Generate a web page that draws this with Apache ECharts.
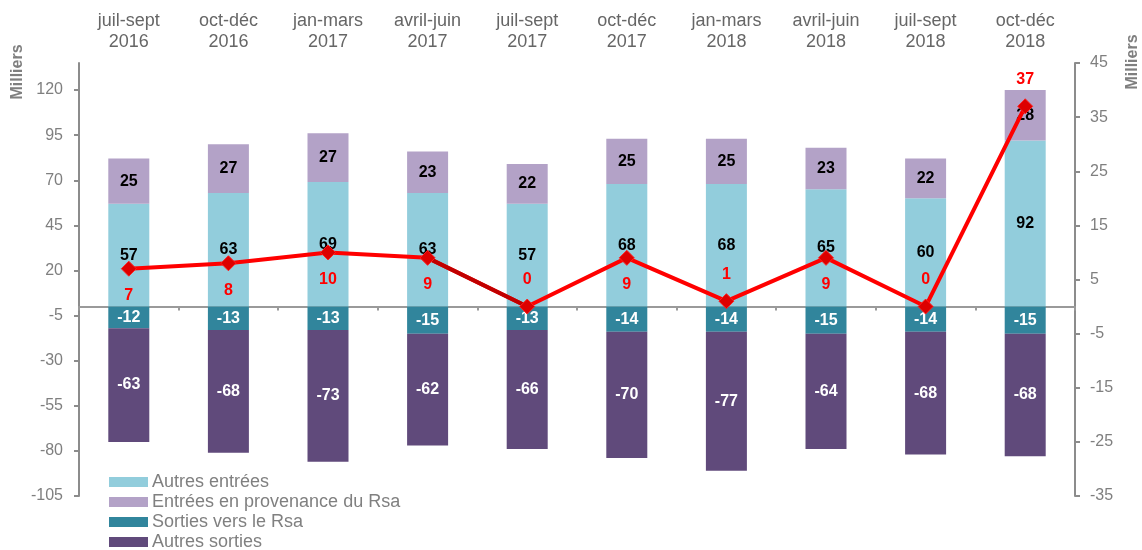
<!DOCTYPE html>
<html>
<head>
<meta charset="utf-8">
<script src="https://cdn.jsdelivr.net/npm/echarts@6/dist/echarts.min.js"></script>
<style>
  html, body { margin: 0; padding: 0; background: #fff; }
  #chart { width: 1142px; height: 550px; }
</style>
</head>
<body>
<div id="chart"></div>
<script>
// Data
const quarters = ['juil-sept\n2016', 'oct-déc\n2016', 'jan-mars\n2017', 'avril-juin\n2017', 'juil-sept\n2017',
    'oct-déc\n2017', 'jan-mars\n2018', 'avril-juin\n2018', 'juil-sept\n2018', 'oct-déc\n2018'];
const autresEntrees = [57, 63, 69, 63, 57, 68, 68, 65, 60, 92];
const entreesRsa = [25, 27, 27, 23, 22, 25, 25, 23, 22, 28];
const sortiesRsa = [-12, -13, -13, -15, -13, -14, -14, -15, -14, -15];
const autresSorties = [-63, -68, -73, -62, -66, -70, -77, -64, -68, -68];
const soldeRsa = [7, 8, 10, 9, 0, 9, 1, 9, 0, 37];
const leftTicks = [-105, -80, -55, -30, -5, 20, 45, 70, 95, 120];

// label side for the red line (above / below the point)
const labelSide = ['bottom', 'bottom', 'bottom', 'bottom', 'top', 'bottom', 'top', 'bottom', 'top', 'top'];
// darker segment of the line (avril-juin 2017 -> juil-sept 2017)
const darkSegment = [3, 4];

const GREY = '#8c8c8c';
const FONT = 'Liberation Sans, Arial, sans-serif';

const chart = echarts.init(document.getElementById('chart'), null, {renderer: 'canvas'});

function barSeries(name, data, color, labelColor) {
    return {
        name: name,
        type: 'bar',
        stack: 'flux',
        data: data,
        barWidth: 41,
        itemStyle: {color: color},
        label: {
            show: true,
            position: 'inside',
            color: labelColor,
            fontFamily: FONT,
            fontWeight: 'bold',
            fontSize: 16
        }
    };
}

function legendBlock(names, top) {
    return {
        orient: 'vertical',
        left: 109,
        top: top,
        padding: 0,
        itemWidth: 39,
        itemHeight: 10,
        itemGap: 2,
        icon: 'rect',
        data: names,
        textStyle: {color: '#808080', fontSize: 18, fontFamily: FONT, padding: [0, 0, 0, -1]}
    };
}

const option = {
    animation: false,
    backgroundColor: '#fff',
    textStyle: {fontFamily: FONT},
    grid: {left: 79, right: 67, top: 63, bottom: 54, containLabel: false},
    legend: [
        legendBlock(['Autres entrées', 'Entrées en provenance du Rsa', 'Sorties vers le Rsa'], 473),
        legendBlock(['Autres sorties'], 533)
    ],
    xAxis: [{
        type: 'category',
        position: 'top',
        data: quarters,
        axisLine: {show: false},
        axisTick: {show: false},
        axisLabel: {color: '#666', fontSize: 18, lineHeight: 21, margin: 10, fontFamily: FONT}
    }, {
        type: 'category',
        position: 'bottom',
        data: quarters,
        axisLine: {show: true, onZero: true, onZeroAxisIndex: 0, lineStyle: {color: '#9a9a9a', width: 2}},
        axisTick: {show: true, length: 4, lineStyle: {color: '#9a9a9a', width: 2}},
        axisLabel: {show: false}
    }],
    yAxis: [{
        type: 'value',
        min: -105,
        max: 135,
        interval: 25,
        splitLine: {show: false},
        axisLine: {show: true, lineStyle: {color: GREY, width: 2}},
        axisTick: {show: true, length: 5, customValues: leftTicks, lineStyle: {color: GREY, width: 2}},
        axisLabel: {color: '#7f7f7f', fontSize: 16, margin: 16, customValues: leftTicks, fontFamily: FONT}
    }, {
        type: 'value',
        min: -35,
        max: 45,
        interval: 10,
        position: 'right',
        splitLine: {show: false},
        axisLine: {show: true, lineStyle: {color: GREY, width: 2}},
        axisTick: {show: true, length: 5, lineStyle: {color: GREY, width: 2}},
        axisLabel: {color: '#7f7f7f', fontSize: 16, margin: 15, fontFamily: FONT}
    }],
    series: [
        barSeries('Autres entrées', autresEntrees, '#92CDDC', '#000'),
        barSeries('Entrées en provenance du Rsa', entreesRsa, '#B3A2C7', '#000'),
        barSeries('Sorties vers le Rsa', sortiesRsa, '#31859C', '#fff'),
        barSeries('Autres sorties', autresSorties, '#604A7B', '#fff'),
        {
            name: 'Solde Rsa',
            type: 'line',
            yAxisIndex: 1,
            data: soldeRsa.map((v, i) => ({value: v, label: {position: labelSide[i]}})),
            symbol: 'diamond',
            symbolSize: 15,
            lineStyle: {color: '#FF0000', width: 4},
            itemStyle: {color: '#DD0000', borderColor: '#FF2020', borderWidth: 1},
            label: {
                show: true,
                distance: 11,
                color: '#FF0000',
                fontWeight: 'bold',
                fontSize: 16,
                fontFamily: FONT
            }
        },
        {
            name: 'segment',
            type: 'line',
            yAxisIndex: 1,
            data: soldeRsa.map((v, i) => (darkSegment.indexOf(i) >= 0 ? v : null)),
            symbol: 'none',
            lineStyle: {color: '#C00000', width: 4},
            silent: true
        }
    ],
    graphic: [{
        type: 'text',
        x: 18,
        y: 72,
        rotation: Math.PI / 2,
        style: {text: 'Milliers', fill: '#7f7f7f', font: 'bold 16px ' + FONT, textAlign: 'center', textVerticalAlign: 'middle'}
    }, {
        type: 'text',
        x: 1133,
        y: 62,
        rotation: Math.PI / 2,
        style: {text: 'Milliers', fill: '#7f7f7f', font: 'bold 16px ' + FONT, textAlign: 'center', textVerticalAlign: 'middle'}
    }]
};

chart.setOption(option);
</script>
</body>
</html>
